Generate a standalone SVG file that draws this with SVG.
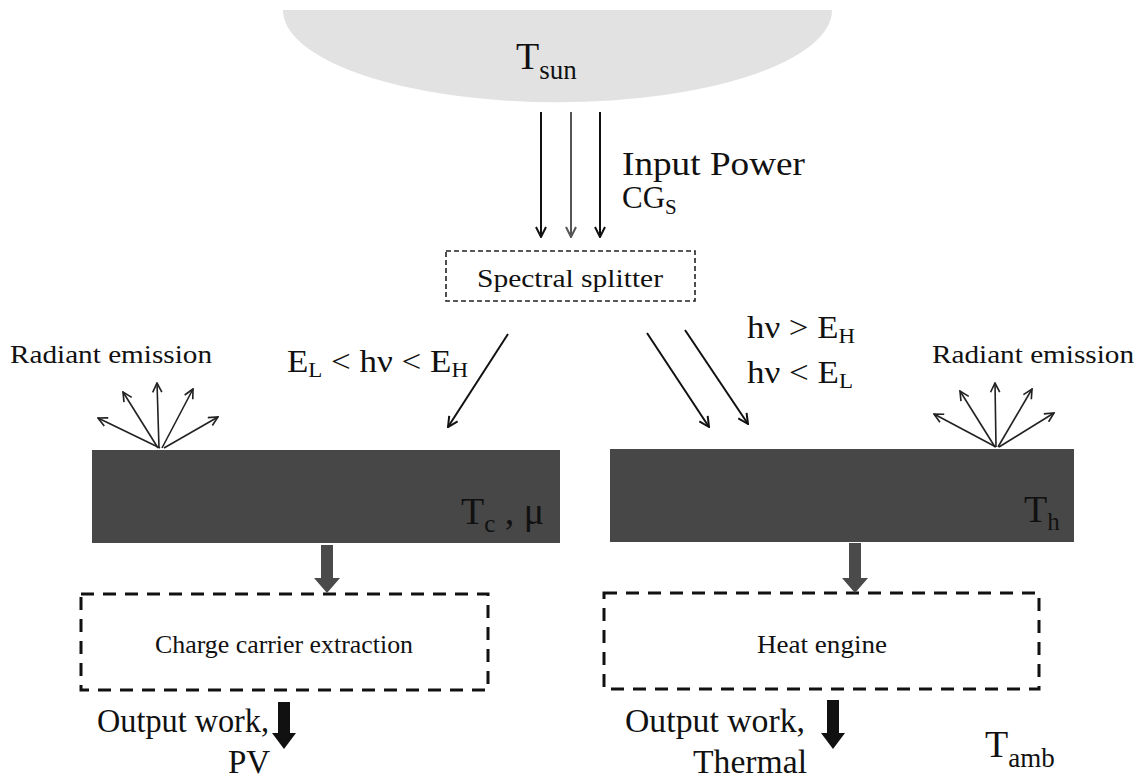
<svg xmlns="http://www.w3.org/2000/svg" width="1140" height="782" viewBox="0 0 1140 782">
<style>
text{font-family:"Liberation Serif","DejaVu Serif",serif;fill:#111}
.ln{stroke:#111;stroke-width:2;fill:none}
.thin{stroke:#222;stroke-width:1.6;fill:none}
.bar{fill:#474747}
.dsh{fill:none;stroke:#111;stroke-width:3;stroke-dasharray:13 9}
.dshs{fill:none;stroke:#222;stroke-width:1.6;stroke-dasharray:5 3}
</style>
<defs>
<marker id="ah" viewBox="0 0 12 12" refX="11" refY="6" markerWidth="12" markerHeight="12" markerUnits="userSpaceOnUse" orient="auto">
<path d="M1,1 L11,6 L1,11" fill="none" stroke="#111" stroke-width="2"/>
</marker>
<marker id="ahs" viewBox="0 0 12 12" refX="11" refY="6" markerWidth="11" markerHeight="11" markerUnits="userSpaceOnUse" orient="auto">
<path d="M1,1 L11,6 L1,11" fill="none" stroke="#222" stroke-width="1.8"/>
</marker>
<marker id="ahg" viewBox="0 0 12 12" refX="11" refY="6" markerWidth="12" markerHeight="12" markerUnits="userSpaceOnUse" orient="auto">
<path d="M1,1 L11,6 L1,11" fill="none" stroke="#555" stroke-width="2"/>
</marker>
</defs>

<g id="sun">
<path d="M283 10 L832 10 A274 92 0 0 1 283 10 Z" fill="#e2e2e2"/>
<text x="516" y="69" font-size="38">T<tspan font-size="27" dy="10">sun</tspan></text>
</g>

<g id="input-label">
<text x="622" y="175" font-size="33" textLength="183" lengthAdjust="spacingAndGlyphs">Input Power</text>
<text x="622" y="208" font-size="31">CG<tspan font-size="21" dy="6">S</tspan></text>
</g>

<g id="splitter">
<rect class="dshs" x="446" y="251" width="249" height="50"/>
<text x="570" y="287" font-size="25" text-anchor="middle" textLength="186" lengthAdjust="spacingAndGlyphs">Spectral splitter</text>
</g>

<g id="label-mid">
<text x="287" y="372" font-size="32" textLength="181" lengthAdjust="spacingAndGlyphs">E<tspan font-size="21" dy="5">L</tspan><tspan dy="-5"> &lt; hν &lt; E</tspan><tspan font-size="21" dy="5">H</tspan></text>
</g>

<g id="label-right">
<text x="747" y="338" font-size="32" textLength="108" lengthAdjust="spacingAndGlyphs">hν &gt; E<tspan font-size="21" dy="5">H</tspan></text>
<text x="747" y="383" font-size="32" textLength="106" lengthAdjust="spacingAndGlyphs">hν &lt; E<tspan font-size="21" dy="5">L</tspan></text>
</g>

<g id="pv-cell">
<rect class="bar" x="92" y="450" width="468" height="93"/>
<text x="461" y="524" font-size="38">T<tspan font-size="25" dy="8">c</tspan><tspan dy="-8"> , μ</tspan></text>
</g>

<g id="thermal-absorber">
<rect class="bar" x="610" y="449" width="464" height="93"/>
<text x="1024" y="522" font-size="38">T<tspan font-size="25" dy="8">h</tspan></text>
</g>

<g id="radiant-left">
<text x="10" y="363" font-size="25" textLength="202" lengthAdjust="spacingAndGlyphs">Radiant emission</text>
</g>
<g id="radiant-right">
<text x="932" y="363" font-size="25" textLength="202" lengthAdjust="spacingAndGlyphs">Radiant emission</text>
</g>

<g id="charge-extraction">
<rect class="dsh" x="81" y="594" width="407" height="96"/>
<text x="284" y="653" font-size="25" text-anchor="middle" textLength="258" lengthAdjust="spacingAndGlyphs">Charge carrier extraction</text>
</g>

<g id="heat-engine">
<rect class="dsh" x="604" y="593" width="435" height="96"/>
<text x="822" y="653" font-size="25" text-anchor="middle" textLength="130" lengthAdjust="spacingAndGlyphs">Heat engine</text>
</g>

<g id="output-pv">
<text x="97" y="732" font-size="33" textLength="172" lengthAdjust="spacingAndGlyphs">Output work,</text>
<text x="249" y="773" font-size="33" text-anchor="middle">PV</text>
</g>
<g id="output-thermal">
<text x="625" y="732" font-size="33" textLength="180" lengthAdjust="spacingAndGlyphs">Output work,</text>
<text x="750" y="773" font-size="33" text-anchor="middle" textLength="114" lengthAdjust="spacingAndGlyphs">Thermal</text>
</g>
<g id="ambient">
<text x="985" y="757" font-size="38">T<tspan font-size="27" dy="10">amb</tspan></text>
</g>

<g id="connectors">
<line class="ln" x1="541" y1="112" x2="541" y2="237" marker-end="url(#ah)"/>
<line x1="571" y1="112" x2="571" y2="237" stroke="#555" stroke-width="2" marker-end="url(#ahg)"/>
<line class="ln" x1="600" y1="112" x2="600" y2="237" marker-end="url(#ah)"/>

<line class="ln" x1="508" y1="334" x2="448" y2="427" marker-end="url(#ah)"/>
<line class="ln" x1="647" y1="333" x2="709" y2="427" marker-end="url(#ah)"/>
<line class="ln" x1="685" y1="330" x2="748" y2="424" marker-end="url(#ah)"/>

<g class="thin">
<line x1="160" y1="448" x2="98" y2="418" marker-end="url(#ahs)"/>
<line x1="158" y1="448" x2="123" y2="392" marker-end="url(#ahs)"/>
<line x1="159" y1="448" x2="157" y2="383" marker-end="url(#ahs)"/>
<line x1="162" y1="448" x2="193" y2="389" marker-end="url(#ahs)"/>
<line x1="164" y1="448" x2="218" y2="417" marker-end="url(#ahs)"/>

<line x1="996" y1="447" x2="934" y2="414" marker-end="url(#ahs)"/>
<line x1="995" y1="447" x2="960" y2="391" marker-end="url(#ahs)"/>
<line x1="996" y1="447" x2="995" y2="383" marker-end="url(#ahs)"/>
<line x1="998" y1="447" x2="1032" y2="389" marker-end="url(#ahs)"/>
<line x1="999" y1="447" x2="1054" y2="413" marker-end="url(#ahs)"/>
</g>

<polygon points="321,545 333,545 333,578 340,578 327,593 314,578 321,578" fill="#4a4a4a"/>
<polygon points="849,543 861,543 861,578 868,578 855,593 842,578 849,578" fill="#4a4a4a"/>
<polygon points="278,702 290,702 290,733 296,733 284,749 272,733 278,733" fill="#111"/>
<polygon points="827,700 839,700 839,733 845,733 833,749 821,733 827,733" fill="#111"/>
</g>
</svg>
